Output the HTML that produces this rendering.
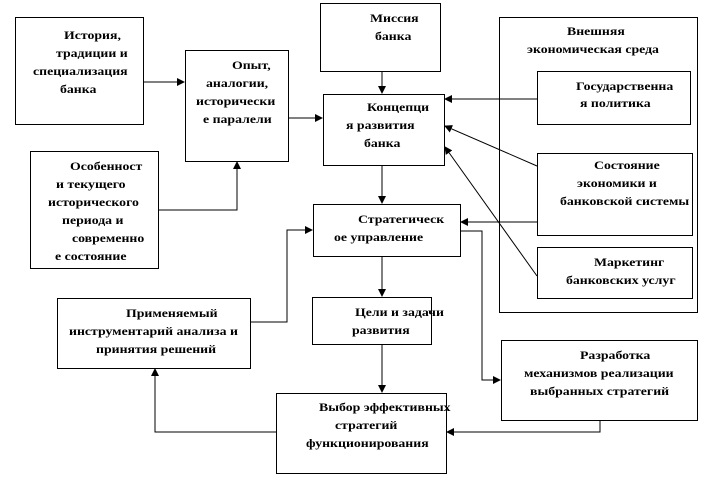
<!DOCTYPE html>
<html><head><meta charset="utf-8"><style>
body{margin:0;width:709px;height:486px;background:#fff;position:relative;overflow:hidden;font-family:"Liberation Serif",serif;font-weight:bold;font-size:12px;color:#000}
.b{position:absolute;border:1px solid #000;box-sizing:border-box;background:#fff}
.t{position:absolute;line-height:18px;white-space:nowrap;transform:scaleX(1.15);transform-origin:0 0}
svg{position:absolute;left:0;top:0}
</style></head><body>
<div class="b" style="left:499px;top:17px;width:199px;height:296px"></div>
<div class="b" style="left:15px;top:17px;width:129px;height:108px"></div>
<div class="b" style="left:185px;top:50px;width:104px;height:112px"></div>
<div class="b" style="left:30px;top:151px;width:129px;height:118px"></div>
<div class="b" style="left:320px;top:3px;width:121px;height:69px"></div>
<div class="b" style="left:323px;top:94px;width:122px;height:72px"></div>
<div class="b" style="left:313px;top:204px;width:148px;height:53px"></div>
<div class="b" style="left:537px;top:71px;width:154px;height:54px"></div>
<div class="b" style="left:537px;top:153px;width:156px;height:83px"></div>
<div class="b" style="left:537px;top:247px;width:156px;height:52px"></div>
<div class="b" style="left:57px;top:298px;width:194px;height:71px"></div>
<div class="b" style="left:312px;top:297px;width:120px;height:48px"></div>
<div class="b" style="left:501px;top:340px;width:197px;height:81px"></div>
<div class="b" style="left:276px;top:393px;width:171px;height:81px"></div>
<svg width="709" height="486" viewBox="0 0 709 486">
<defs><marker id="a" markerWidth="8" markerHeight="8" refX="7" refY="4" orient="auto" markerUnits="userSpaceOnUse"><path d="M0,0L8,4L0,8z" fill="#000"/></marker></defs>
<g stroke="#000" stroke-width="1" fill="none" marker-end="url(#a)">
<path d="M144,82H184"/>
<path d="M289,118H322"/>
<path d="M159,210H237V162"/>
<path d="M382,72V93"/>
<path d="M382,166V203"/>
<path d="M537,99H445"/>
<path d="M537,166L445,126"/>
<path d="M537,276L445,147"/>
<path d="M537,222H461"/>
<path d="M382,257V296"/>
<path d="M461,231H482V380H500"/>
<path d="M251,322H287V230H312"/>
<path d="M382,345V392"/>
<path d="M600,421V432H447"/>
<path d="M276,432H155V369"/>
</g></svg>
<div class="t" style="left:64px;top:26px">История,</div>
<div class="t" style="left:56px;top:44px">традиции  и</div>
<div class="t" style="left:33px;top:62px">специализация</div>
<div class="t" style="left:60px;top:80px">банка</div>
<div class="t" style="left:232px;top:56px">Опыт,</div>
<div class="t" style="left:206px;top:74px">аналогии,</div>
<div class="t" style="left:196px;top:92px">исторически</div>
<div class="t" style="left:203px;top:110px">е паралели</div>
<div class="t" style="left:70px;top:157px">Особенност</div>
<div class="t" style="left:56px;top:175px">и текущего</div>
<div class="t" style="left:48px;top:193px">исторического</div>
<div class="t" style="left:62px;top:211px">периода  и</div>
<div class="t" style="left:72px;top:229px">современно</div>
<div class="t" style="left:55px;top:247px">е состояние</div>
<div class="t" style="left:370px;top:9px">Миссия</div>
<div class="t" style="left:375px;top:27px">банка</div>
<div class="t" style="left:367px;top:98px">Концепци</div>
<div class="t" style="left:346px;top:116px">я развития</div>
<div class="t" style="left:364px;top:134px">банка</div>
<div class="t" style="left:358px;top:210px">Стратегическ</div>
<div class="t" style="left:334px;top:228px">ое управление</div>
<div class="t" style="left:567px;top:22px">Внешняя</div>
<div class="t" style="left:527px;top:40px">экономическая  среда</div>
<div class="t" style="left:576px;top:77px">Государственна</div>
<div class="t" style="left:580px;top:94px">я политика</div>
<div class="t" style="left:594px;top:156px">Состояние</div>
<div class="t" style="left:577px;top:174px">экономики  и</div>
<div class="t" style="left:560px;top:192px">банковской  системы</div>
<div class="t" style="left:594px;top:253px">Маркетинг</div>
<div class="t" style="left:566px;top:271px">банковских  услуг</div>
<div class="t" style="left:126px;top:304px">Применяемый</div>
<div class="t" style="left:69px;top:322px">инструментарий  анализа и</div>
<div class="t" style="left:96px;top:340px">принятия  решений</div>
<div class="t" style="left:355px;top:303px">Цели и задачи</div>
<div class="t" style="left:352px;top:321px">развития</div>
<div class="t" style="left:580px;top:346px">Разработка</div>
<div class="t" style="left:524px;top:364px">механизмов реализации</div>
<div class="t" style="left:530px;top:382px">выбранных  стратегий</div>
<div class="t" style="left:319px;top:398px">Выбор эффективных</div>
<div class="t" style="left:335px;top:416px">стратегий</div>
<div class="t" style="left:306px;top:434px">функционирования</div>
</body></html>
